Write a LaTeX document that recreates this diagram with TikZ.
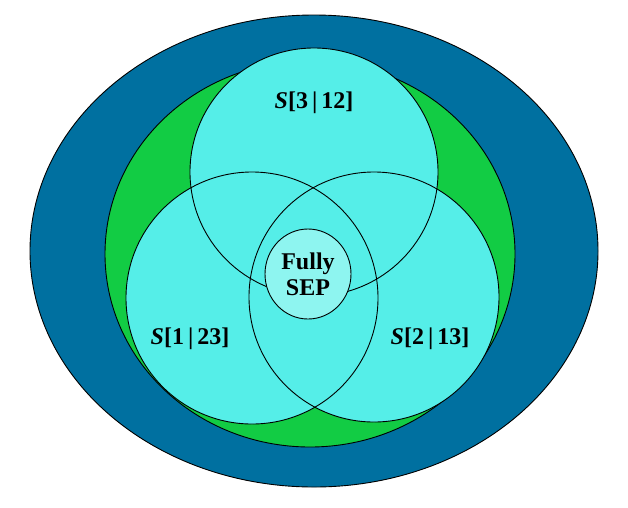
\documentclass[tikz,border=0pt]{standalone}
\usetikzlibrary{shapes.geometric}
\usepackage{fontspec}
\setmainfont{Liberation Serif}
\begin{document}
\begin{tikzpicture}[x=1pt,y=-1pt,
  ln/.style={draw=black,line width=0.9pt},
  lab/.style={font=\fontsize{24}{26}\selectfont\bfseries}]
\definecolor{outerc}{HTML}{0070A0}
\definecolor{greenc}{HTML}{12CC44}
\definecolor{cyanc}{HTML}{55EEE8}
\definecolor{innerc}{HTML}{8EF5F0}
\useasboundingbox (0,0) rectangle (628,507);
\path[ln,fill=outerc] (314,251) ellipse [x radius=284, y radius=236];
\path[ln,fill=greenc] (310,254) ellipse [x radius=205, y radius=193];
\fill[cyanc] (314,172) circle (124);
\fill[cyanc] (252,298) circle (126);
\fill[cyanc] (374,297) circle (125);
\draw[ln] (314,172) circle (124);
\draw[ln] (252,298) circle (126);
\draw[ln] (374,297) circle (125);
\node[ln,fill=innerc,ellipse,minimum width=86,minimum height=90,inner sep=0] (fs) at (308,274) {};
\node[lab,align=center] (fst) at (308,274) {Fully\\SEP};
\node[lab] (a) at (314,103) {\textit{S}[3\,|\,12]};
\node[lab] (b) at (190,339) {\textit{S}[1\,|\,23]};
\node[lab] (c) at (430,339) {\textit{S}[2\,|\,13]};
\end{tikzpicture}
\end{document}
